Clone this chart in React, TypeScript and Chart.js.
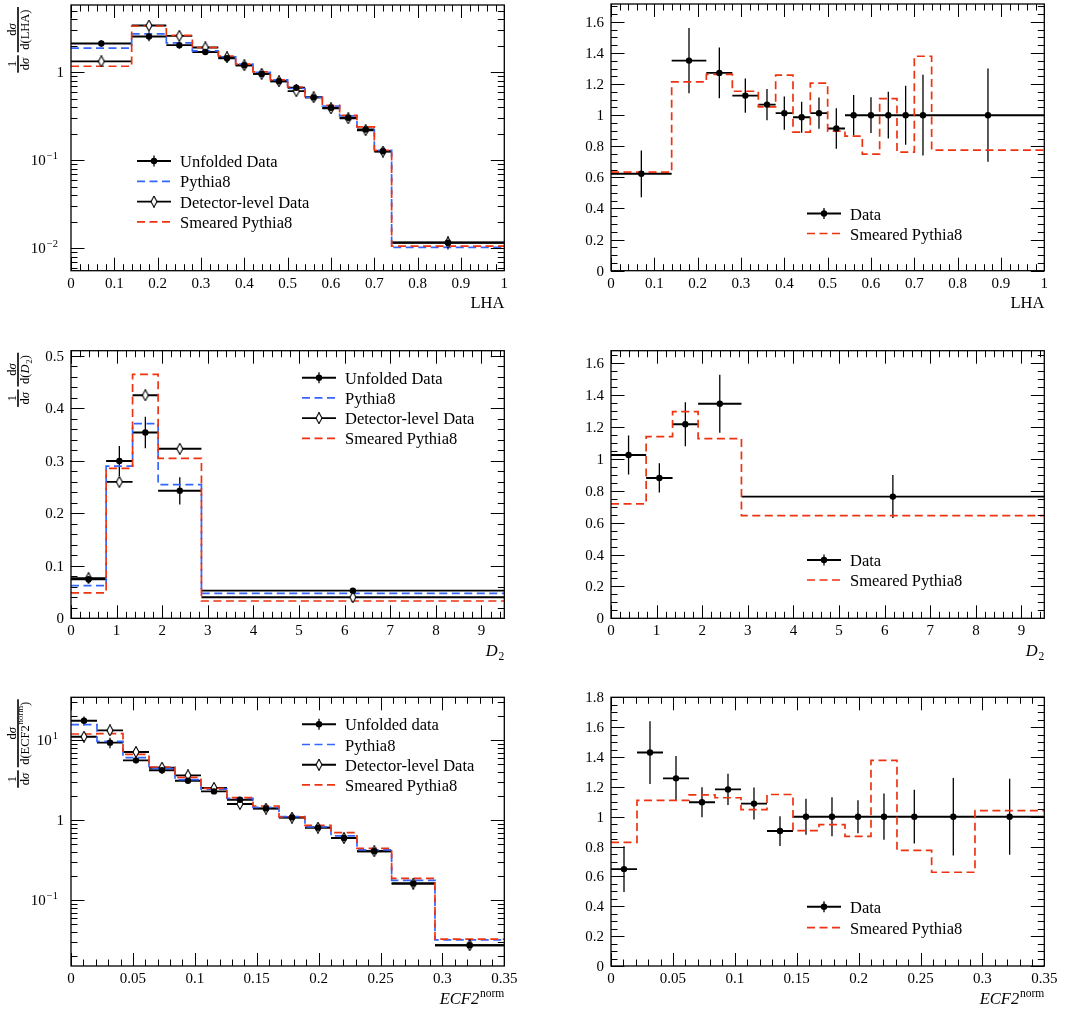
import React, { useEffect, useRef } from "react";
import { Chart, registerables } from "chart.js";
Chart.register(...registerables);

const RED = "#ee3311";
const BLUE = "#3366ff";
const FONT = '"Liberation Serif", "DejaVu Serif", serif';

// ---------------- LHA ----------------
const lhaEdges = [0, 0.14, 0.22, 0.28, 0.34, 0.38, 0.42, 0.46, 0.5, 0.54, 0.58, 0.62, 0.66, 0.7, 0.74, 1.0];
const lhaUnfolded = [2.12, 2.55, 2.03, 1.7, 1.44, 1.2, 0.958, 0.792, 0.666, 0.518, 0.396, 0.305, 0.224, 0.127, 0.0116];
const lhaUnfoldedErr = [0.17, 0.3, 0.18, 0.12, 0.075, 0.05, 0.04, 0.035, 0.07, 0.028, 0.02, 0.018, 0.016, 0.011, 0.0019];
const lhaDetector = [1.33, 3.39, 2.59, 1.91, 1.48, 1.2, 0.96, 0.79, 0.61, 0.52, 0.389, 0.3, 0.22, 0.126, 0.0117];
const lhaDetectorErr = [0.03, 0.08, 0.06, 0.04, 0.03, 0.025, 0.02, 0.016, 0.013, 0.011, 0.008, 0.007, 0.005, 0.004, 0.0008];
const lhaPythia = [1.88, 2.73, 2.16, 1.75, 1.5, 1.24, 1.0, 0.82, 0.654, 0.52, 0.414, 0.319, 0.24, 0.13, 0.0103];
const lhaSmeared = [1.17, 3.35, 2.62, 1.91, 1.53, 1.24, 1.01, 0.82, 0.68, 0.52, 0.42, 0.324, 0.24, 0.13, 0.0106];
const lhaRatio = [0.623, 1.351, 1.272, 1.126, 1.068, 1.013, 0.987, 1.013, 0.914, 1, 1, 1, 1, 1, 1];
const lhaRatioErr = [0.15, 0.21, 0.163, 0.11, 0.1, 0.107, 0.1, 0.1, 0.13, 0.13, 0.115, 0.15, 0.19, 0.26, 0.3];
const lhaSmearedRatio = [0.634, 1.214, 1.263, 1.154, 1.054, 1.257, 0.891, 1.206, 0.897, 0.865, 0.749, 1.107, 0.762, 1.379, 0.775];

// ---------------- D2 ----------------
const d2Edges = [0, 0.77, 1.35, 1.91, 2.86, 9.5];
const d2Unfolded = [0.0743, 0.2997, 0.354, 0.243, 0.0527];
const d2UnfoldedErr = [0.004, 0.0286, 0.03, 0.026, 0.002];
const d2Detector = [0.0765, 0.26, 0.425, 0.323, 0.04];
const d2DetectorErr = [0.002, 0.003, 0.004, 0.003, 0.001];
const d2Pythia = [0.0622, 0.29, 0.371, 0.2546, 0.0476];
const d2Smeared = [0.0483, 0.2857, 0.4648, 0.3048, 0.033];
const d2Ratio = [1.025, 0.881, 1.218, 1.347, 0.764];
const d2RatioErr = [0.123, 0.092, 0.138, 0.182, 0.135];
const d2SmearedRatio = [0.718, 1.14, 1.297, 1.128, 0.644];

// ---------------- ECF2 norm ----------------
const ecfEdges = [0, 0.021, 0.042, 0.063, 0.084, 0.105, 0.126, 0.147, 0.168, 0.189, 0.21, 0.231, 0.259, 0.294, 0.35];
const ecfUnfolded = [17.6, 9.35, 5.62, 4.22, 3.13, 2.3, 1.81, 1.41, 1.09, 0.81, 0.6, 0.41, 0.162, 0.0274];
const ecfUnfoldedErr = [2.3, 1.4, 0.45, 0.25, 0.18, 0.11, 0.14, 0.07, 0.05, 0.04, 0.03, 0.025, 0.023, 0.0035];
const ecfDetector = [11.1, 13.3, 7.15, 4.55, 3.65, 2.54, 1.6, 1.4, 1.08, 0.81, 0.6, 0.41, 0.162, 0.0274];
const ecfDetectorErr = [0.3, 0.35, 0.15, 0.08, 0.07, 0.04, 0.03, 0.025, 0.02, 0.015, 0.012, 0.008, 0.004, 0.001];
const ecfPythia = [15.7, 9.7, 6.07, 4.47, 3.22, 2.46, 1.88, 1.45, 1.11, 0.83, 0.64, 0.426, 0.178, 0.032];
const ecfSmeared = [12.0, 12.1, 6.68, 4.64, 3.45, 2.51, 1.92, 1.51, 1.1, 0.866, 0.7, 0.447, 0.188, 0.0327];
const ecfRatio = [0.649, 1.43, 1.257, 1.097, 1.183, 1.088, 0.904, 1, 1, 1, 1, 1, 1, 1];
const ecfRatioErr = [0.154, 0.21, 0.15, 0.1, 0.105, 0.107, 0.1, 0.12, 0.13, 0.11, 0.155, 0.18, 0.26, 0.255];
const ecfSmearedRatio = [0.828, 1.109, 1.109, 1.147, 1.127, 1.048, 1.149, 0.907, 0.947, 0.868, 1.378, 0.774, 0.628, 1.041];

// ---------------- helpers ----------------
type Part = { t: string; italic?: boolean; sub?: string; sup?: string };
type LegendItem = { label: string; kind: "filled" | "open" | "dash"; color?: string };

let diamondCache: HTMLCanvasElement | null = null;
function diamond(): HTMLCanvasElement {
  if (diamondCache) return diamondCache;
  const c = document.createElement("canvas");
  c.width = 8;
  c.height = 12;
  const g = c.getContext("2d")!;
  g.beginPath();
  g.moveTo(4, 0.6);
  g.lineTo(7.0, 6);
  g.lineTo(4, 11.4);
  g.lineTo(1.0, 6);
  g.closePath();
  g.fillStyle = "#fff";
  g.fill();
  g.strokeStyle = "#000";
  g.lineWidth = 1.1;
  g.stroke();
  diamondCache = c;
  return c;
}

const centers = (e: number[]) => e.slice(0, -1).map((v, i) => (v + e[i + 1]) / 2);
const stepPoints = (e: number[], v: number[]) => [
  ...v.map((y, i) => ({ x: e[i], y })),
  { x: e[e.length - 1], y: v[v.length - 1] },
];
const hbar = (e: number[], v: number[]) =>
  v.flatMap((y, i) => [
    { x: e[i], y },
    { x: e[i + 1], y },
    { x: e[i + 1], y: null as any },
  ]);
const vbar = (c: number[], v: number[], err: number[]) =>
  v.flatMap((y, i) => [
    { x: c[i], y: y - err[i] },
    { x: c[i], y: y + err[i] },
    { x: c[i], y: null as any },
  ]);

const DASH = [8, 4.5];

function markerSet(c: number[], v: number[], open: boolean, order: number) {
  return {
    data: c.map((x, i) => ({ x, y: v[i] })),
    showLine: false,
    pointStyle: open ? diamond() : "circle",
    pointRadius: open ? 5 : 3.2,
    pointBackgroundColor: "#000",
    pointBorderColor: "#000",
    pointBorderWidth: 0,
    order,
  };
}
function stepSet(e: number[], v: number[], color: string, order: number) {
  return {
    data: stepPoints(e, v),
    borderColor: color,
    borderDash: DASH,
    borderWidth: 1.7,
    stepped: true,
    pointRadius: 0,
    order,
  };
}
function lineSet(data: any[], width: number, order: number) {
  return { data, borderColor: "#000", borderWidth: width, pointRadius: 0, spanGaps: false, order };
}

function distDatasets(e: number[], unf: number[], unfErr: number[], det: number[], detErr: number[], py: number[], sm: number[]) {
  const c = centers(e);
  return [
    markerSet(c, unf, false, 0),
    markerSet(c, det, true, 1),
    stepSet(e, sm, RED, 2),
    stepSet(e, py, BLUE, 3),
    lineSet(hbar(e, unf), 1.9, 4),
    lineSet(vbar(c, unf, unfErr), 1.3, 4),
    lineSet(hbar(e, det), 1.9, 5),
    lineSet(vbar(c, det, detErr), 1.3, 5),
  ];
}
function ratioDatasets(e: number[], r: number[], rErr: number[], sm: number[]) {
  const c = centers(e);
  return [
    markerSet(c, r, false, 0),
    stepSet(e, sm, RED, 1),
    lineSet(hbar(e, r), 1.9, 2),
    lineSet(vbar(c, r, rErr), 1.3, 2),
  ];
}

function linTicks(min: number, max: number, step: number) {
  const out: number[] = [];
  const n0 = Math.ceil(min / step - 1e-7);
  const n1 = Math.floor(max / step + 1e-7);
  for (let n = n0; n <= n1; n++) out.push(parseFloat((n * step).toFixed(10)));
  return out;
}
const fmt = (v: number) => String(parseFloat(v.toFixed(6)));

function setFont(ctx: CanvasRenderingContext2D, size: number, italic?: boolean) {
  ctx.font = `${italic ? "italic " : ""}${size}px ${FONT}`;
}
function partsWidth(ctx: CanvasRenderingContext2D, parts: Part[], size: number) {
  let w = 0;
  for (const p of parts) {
    setFont(ctx, size, p.italic);
    w += ctx.measureText(p.t).width;
    const s = p.sub || p.sup;
    if (s) {
      setFont(ctx, size * 0.7);
      w += ctx.measureText(s).width + 0.8;
    }
  }
  return w;
}
function drawParts(ctx: CanvasRenderingContext2D, parts: Part[], x: number, y: number, size: number) {
  ctx.textAlign = "left";
  ctx.textBaseline = "alphabetic";
  let cx = x;
  for (const p of parts) {
    setFont(ctx, size, p.italic);
    ctx.fillText(p.t, cx, y);
    cx += ctx.measureText(p.t).width;
    if (p.sub) {
      setFont(ctx, size * 0.7);
      ctx.fillText(p.sub, cx + 0.8, y + size * 0.25);
      cx += ctx.measureText(p.sub).width + 0.8;
    }
    if (p.sup) {
      setFont(ctx, size * 0.7);
      ctx.fillText(p.sup, cx + 0.8, y - size * 0.42);
      cx += ctx.measureText(p.sup).width + 0.8;
    }
  }
}
function drawFraction(ctx: CanvasRenderingContext2D, xRight: number, num: Part[], den: Part[], size: number) {
  const wn = partsWidth(ctx, num, size);
  const wd = partsWidth(ctx, den, size);
  const w = Math.max(wn, wd) + 5;
  const xl = xRight - w;
  drawParts(ctx, num, xl + (w - wn) / 2, -2.4, size);
  drawParts(ctx, den, xl + (w - wd) / 2, 10.5, size);
  ctx.fillRect(xl, -0.8, w, 1.6);
  return xl;
}

interface PanelCfg {
  id: string;
  left: number;
  top: number;
  width: number;
  height: number;
  padTop: number;
  padRight: number;
  yAxisW: number;
  xAxisH: number;
  xMin: number;
  xMax: number;
  xMajor: number;
  xMinor: number;
  yMin: number;
  yMax: number;
  yLog: boolean;
  yMajor?: number;
  yMinor?: number;
  xTitle: Part[];
  yDen?: Part[];
  legend: { x: number; y: number; dy: number; items: LegendItem[] };
  datasets: () => any[];
}

function makePlugin(cfg: PanelCfg) {
  return {
    id: "rivetFrame",
    afterDatasetsDraw(chart: any) {
      const { ctx, chartArea: a } = chart;
      const xs = chart.scales.x;
      const ys = chart.scales.y;
      ctx.save();
      ctx.strokeStyle = "#000";
      ctx.lineWidth = 1;
      ctx.beginPath();
      const xMaj = linTicks(cfg.xMin, cfg.xMax, cfg.xMajor);
      const xMin = linTicks(cfg.xMin, cfg.xMax, cfg.xMinor);
      for (const v of xMin) {
        const major = xMaj.some((m) => Math.abs(m - v) < 1e-9);
        const L = major ? 13 : 6.5;
        const px = Math.round(xs.getPixelForValue(v)) + 0.5;
        ctx.moveTo(px, a.bottom);
        ctx.lineTo(px, a.bottom - L);
        ctx.moveTo(px, a.top);
        ctx.lineTo(px, a.top + L);
      }
      const yt: { v: number; major: boolean }[] = [];
      if (cfg.yLog) {
        const d0 = Math.floor(Math.log10(cfg.yMin));
        const d1 = Math.ceil(Math.log10(cfg.yMax));
        for (let d = d0; d <= d1; d++) {
          for (let k = 1; k <= 9; k++) {
            const v = k * Math.pow(10, d);
            if (v >= cfg.yMin * 0.9999 && v <= cfg.yMax * 1.0001) yt.push({ v, major: k === 1 });
          }
        }
      } else {
        const yMaj = linTicks(cfg.yMin, cfg.yMax, cfg.yMajor!);
        for (const v of linTicks(cfg.yMin, cfg.yMax, cfg.yMinor!)) {
          yt.push({ v, major: yMaj.some((m) => Math.abs(m - v) < 1e-9) });
        }
      }
      for (const t of yt) {
        const L = t.major ? 13.5 : 6.5;
        const py = Math.round(ys.getPixelForValue(t.v)) + 0.5;
        ctx.moveTo(a.left, py);
        ctx.lineTo(a.left + L, py);
        ctx.moveTo(a.right, py);
        ctx.lineTo(a.right - L, py);
      }
      ctx.stroke();
      ctx.lineWidth = 1.3;
      ctx.strokeRect(a.left, a.top, a.right - a.left, a.bottom - a.top);

      // tick labels
      ctx.fillStyle = "#000";
      setFont(ctx, 15);
      ctx.textAlign = "center";
      ctx.textBaseline = "alphabetic";
      for (const v of xMaj) ctx.fillText(fmt(v), xs.getPixelForValue(v), a.bottom + 17);
      for (const t of yt) {
        if (!t.major) continue;
        const py = ys.getPixelForValue(t.v);
        if (cfg.yLog) {
          const e = Math.round(Math.log10(t.v));
          if (e === 0) {
            setFont(ctx, 15);
            ctx.textAlign = "right";
            ctx.fillText("1", a.left - 7, py + 5);
          } else {
            const es = e < 0 ? "\u2212" + Math.abs(e) : String(e);
            setFont(ctx, 10.5);
            const ew = ctx.measureText(es).width;
            setFont(ctx, 15);
            const bw = ctx.measureText("10").width;
            const xr = a.left - 13;
            ctx.textAlign = "left";
            ctx.fillText("10", xr - ew - bw - 1, py + 5);
            setFont(ctx, 10.5);
            ctx.fillText(es, xr - ew, py - 1.5);
          }
        } else {
          setFont(ctx, 15);
          ctx.textAlign = "right";
          ctx.fillText(fmt(t.v), a.left - 7, py + 5);
        }
      }

      // x title (right aligned)
      const tw = partsWidth(ctx, cfg.xTitle, 16.5);
      drawParts(ctx, cfg.xTitle, a.right - tw, a.bottom + 37.5, 16.5);

      // y title (rotated fraction)
      if (cfg.yDen) {
        ctx.save();
        ctx.translate(18, a.top + 2);
        ctx.rotate(-Math.PI / 2);
        const sig: Part[] = [{ t: "d" }, { t: "\u03c3", italic: true }];
        const xl = drawFraction(ctx, 0, sig, cfg.yDen, 12.5);
        drawFraction(ctx, xl - 3, [{ t: "1" }], sig, 12.5);
        ctx.restore();
      }

      // legend
      const Lg = cfg.legend;
      Lg.items.forEach((it, i) => {
        const y = a.top + Lg.y + i * Lg.dy;
        const x0 = a.left + Lg.x;
        ctx.save();
        ctx.beginPath();
        ctx.moveTo(x0, y);
        ctx.lineTo(x0 + 34, y);
        if (it.kind === "dash") {
          ctx.setLineDash(DASH);
          ctx.strokeStyle = it.color || RED;
          ctx.lineWidth = 1.7;
        } else {
          ctx.strokeStyle = "#000";
          ctx.lineWidth = 1.9;
        }
        ctx.stroke();
        ctx.setLineDash([]);
        if (it.kind !== "dash") {
          const cx = x0 + 17;
          ctx.beginPath();
          ctx.lineWidth = 1.3;
          ctx.moveTo(cx, y - 5.5);
          ctx.lineTo(cx, y + 5.5);
          ctx.stroke();
          if (it.kind === "filled") {
            ctx.beginPath();
            ctx.arc(cx, y, 3.2, 0, Math.PI * 2);
            ctx.fillStyle = "#000";
            ctx.fill();
          } else {
            const d = diamond();
            ctx.drawImage(d, cx - d.width / 2, y - d.height / 2);
          }
        }
        ctx.fillStyle = "#000";
        drawParts(ctx, [{ t: it.label }], x0 + 43, y + 6, 16.5);
        ctx.restore();
      });
      ctx.restore();
    },
  };
}

const legend4 = (first: string): LegendItem[] => [
  { label: first, kind: "filled" },
  { label: "Pythia8", kind: "dash", color: BLUE },
  { label: "Detector-level Data", kind: "open" },
  { label: "Smeared Pythia8", kind: "dash", color: RED },
];
const legend2: LegendItem[] = [
  { label: "Data", kind: "filled" },
  { label: "Smeared Pythia8", kind: "dash", color: RED },
];

const rowTop = [0, 337, 674];
const rowPad = [3.3, 13.7, 23.3];
const rowXH = [66.3, 55.7, 45];

const base = (col: number, row: number) => ({
  left: col * 540,
  top: rowTop[row],
  width: 540,
  height: 337,
  padTop: rowPad[row],
  padRight: 35.7,
  yAxisW: 71,
  xAxisH: rowXH[row],
});

const panels: PanelCfg[] = [
  {
    id: "lha",
    ...base(0, 0),
    xMin: 0, xMax: 1, xMajor: 0.1, xMinor: 0.02,
    yMin: 0.00559, yMax: 5.8, yLog: true,
    xTitle: [{ t: "LHA" }],
    yDen: [{ t: "d(LHA)" }],
    legend: { x: 66, y: 156, dy: 20.3, items: legend4("Unfolded Data") },
    datasets: () => distDatasets(lhaEdges, lhaUnfolded, lhaUnfoldedErr, lhaDetector, lhaDetectorErr, lhaPythia, lhaSmeared),
  },
  {
    id: "lhaR",
    ...base(1, 0),
    xMin: 0, xMax: 1, xMajor: 0.1, xMinor: 0.02,
    yMin: 0, yMax: 1.715, yLog: false, yMajor: 0.2, yMinor: 0.05,
    xTitle: [{ t: "LHA" }],
    legend: { x: 196, y: 209.5, dy: 20, items: legend2 },
    datasets: () => ratioDatasets(lhaEdges, lhaRatio, lhaRatioErr, lhaSmearedRatio),
  },
  {
    id: "d2",
    ...base(0, 1),
    xMin: 0, xMax: 9.5, xMajor: 1, xMinor: 0.2,
    yMin: 0, yMax: 0.51, yLog: false, yMajor: 0.1, yMinor: 0.02,
    xTitle: [{ t: "D", italic: true, sub: "2" }],
    yDen: [{ t: "d(" }, { t: "D", italic: true, sub: "2" }, { t: ")" }],
    legend: { x: 231, y: 27, dy: 20.2, items: legend4("Unfolded Data") },
    datasets: () => distDatasets(d2Edges, d2Unfolded, d2UnfoldedErr, d2Detector, d2DetectorErr, d2Pythia, d2Smeared),
  },
  {
    id: "d2R",
    ...base(1, 1),
    xMin: 0, xMax: 9.5, xMajor: 1, xMinor: 0.2,
    yMin: 0, yMax: 1.68, yLog: false, yMajor: 0.2, yMinor: 0.05,
    xTitle: [{ t: "D", italic: true, sub: "2" }],
    legend: { x: 196, y: 209.3, dy: 20, items: legend2 },
    datasets: () => ratioDatasets(d2Edges, d2Ratio, d2RatioErr, d2SmearedRatio),
  },
  {
    id: "ecf",
    ...base(0, 2),
    xMin: 0, xMax: 0.35, xMajor: 0.05, xMinor: 0.01,
    yMin: 0.0151, yMax: 34.5, yLog: true,
    xTitle: [{ t: "ECF2", italic: true, sup: "norm" }],
    yDen: [{ t: "d(ECF2", sup: "norm" }, { t: ")" }],
    legend: { x: 231, y: 27, dy: 20.2, items: legend4("Unfolded data") },
    datasets: () => distDatasets(ecfEdges, ecfUnfolded, ecfUnfoldedErr, ecfDetector, ecfDetectorErr, ecfPythia, ecfSmeared),
  },
  {
    id: "ecfR",
    ...base(1, 2),
    xMin: 0, xMax: 0.35, xMajor: 0.05, xMinor: 0.01,
    yMin: 0, yMax: 1.8, yLog: false, yMajor: 0.2, yMinor: 0.05,
    xTitle: [{ t: "ECF2", italic: true, sup: "norm" }],
    legend: { x: 196, y: 209.4, dy: 21, items: legend2 },
    datasets: () => ratioDatasets(ecfEdges, ecfRatio, ecfRatioErr, ecfSmearedRatio),
  },
];

function Panel({ cfg }: { cfg: PanelCfg }) {
  const ref = useRef<HTMLCanvasElement>(null);
  useEffect(() => {
    const chart = new Chart(ref.current!, {
      type: "line",
      data: { datasets: cfg.datasets() },
      options: {
        responsive: true,
        maintainAspectRatio: false,
        animation: false,
        events: [],
        layout: { padding: { top: cfg.padTop, right: cfg.padRight, left: 0, bottom: 0 } },
        plugins: { legend: { display: false }, tooltip: { enabled: false } },
        elements: { line: { tension: 0 } },
        scales: {
          x: {
            type: "linear",
            min: cfg.xMin,
            max: cfg.xMax,
            ticks: { display: false },
            grid: { display: false },
            border: { display: false },
            afterFit: (s: any) => {
              s.height = cfg.xAxisH;
            },
          },
          y: {
            type: cfg.yLog ? "logarithmic" : "linear",
            min: cfg.yMin,
            max: cfg.yMax,
            ticks: { display: false },
            grid: { display: false },
            border: { display: false },
            afterFit: (s: any) => {
              s.width = cfg.yAxisW;
            },
          },
        },
      } as any,
      plugins: [makePlugin(cfg) as any],
    });
    return () => chart.destroy();
  }, [cfg]);
  return (
    <div style={{ position: "absolute", left: cfg.left, top: cfg.top, width: cfg.width, height: cfg.height }}>
      <canvas ref={ref} />
    </div>
  );
}

export default function App() {
  return (
    <div style={{ position: "absolute", left: 0, top: 0, width: 1080, height: 1011, background: "#fff", overflow: "hidden" }}>
      {panels.map((p) => (
        <Panel key={p.id} cfg={p} />
      ))}
    </div>
  );
}
